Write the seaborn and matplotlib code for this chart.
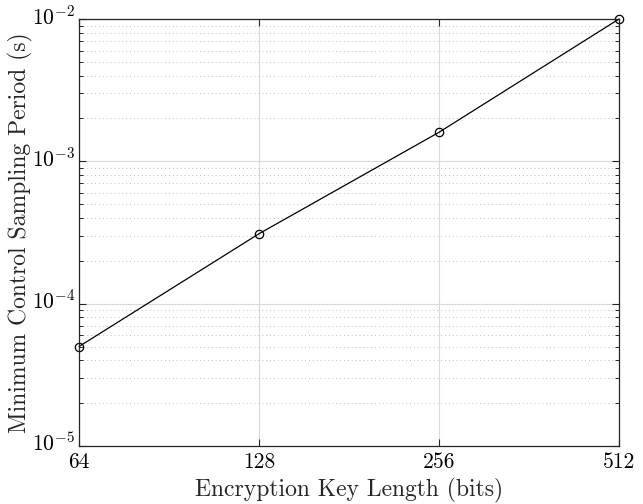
import matplotlib
matplotlib.use("Agg")
import matplotlib.pyplot as plt
import matplotlib.ticker as mticker
import matplotlib.transforms as mtransforms
import seaborn as sns
import pandas as pd

key_bits = [64, 128, 256, 512]
min_period = [5.0e-5, 3.1e-4, 1.6e-3, 1.0e-2]
x_ticks = [64, 128, 256, 512]
x_tick_labels = ["64", "128", "256", "512"]

sns.set_style("ticks")
plt.rcParams.update({
    "font.family": "serif",
    "font.serif": ["cmr10"],
    "mathtext.fontset": "cm",
    "axes.formatter.use_mathtext": True,
    "axes.unicode_minus": False,
    "xtick.direction": "in",
    "ytick.direction": "in",
    "xtick.top": True,
    "ytick.right": True,
})

df = pd.DataFrame({"bits": key_bits, "period": min_period})

fig = plt.figure(figsize=(6.43, 5.04), dpi=100)
ax = fig.add_axes([0.1229, 0.1151, 0.8398, 0.8472])

sns.lineplot(data=df, x="bits", y="period", ax=ax, color="black", lw=0.9,
             marker="o", markersize=6, markerfacecolor="none",
             markeredgecolor="black", markeredgewidth=0.9)
for ln in ax.lines:
    ln.set_clip_on(False)

ax.set_xscale("log", base=2)
ax.set_yscale("log")
ax.set_xlim(64, 512)
ax.set_ylim(1e-5, 1e-2)
ax.xaxis.set_major_locator(mticker.FixedLocator(x_ticks))
ax.xaxis.set_major_formatter(mticker.FixedFormatter(x_tick_labels))
ax.xaxis.set_minor_locator(mticker.NullLocator())
ax.yaxis.set_major_locator(mticker.LogLocator(base=10, numticks=10))
ax.yaxis.set_minor_locator(mticker.LogLocator(base=10, subs=range(2, 10), numticks=20))
ax.yaxis.set_minor_formatter(mticker.NullFormatter())

ax.grid(which="major", color="#d9d9d9", lw=0.8, ls="-")
ax.grid(which="minor", axis="y", color="#bdbdbd", lw=0.7, ls=(0, (1, 3)))
ax.set_axisbelow(True)

for s in ax.spines.values():
    s.set_color("#262626")
    s.set_linewidth(0.9)
ax.tick_params(which="major", length=5, width=0.8, labelsize=15.5, colors="#262626")
ax.tick_params(which="minor", length=3, width=0.7, colors="#262626")
ax.tick_params(axis="x", pad=5)
ax.tick_params(axis="y", pad=3)
for lab in ax.get_xticklabels() + ax.get_yticklabels():
    lab.set_color("black")

ax.set_xlabel("Encryption Key Length (bits)", fontsize=17, labelpad=4)
ax.set_ylabel("Minimum Control Sampling Period (s)", fontsize=17, labelpad=-1)

# lift the power-of-ten labels so the base sits on the tick
lift = mtransforms.ScaledTranslation(0, 3.5 / 72, fig.dpi_scale_trans)
for lab in ax.get_yticklabels():
    lab.set_transform(lab.get_transform() + lift)

fig.savefig("out.png", dpi=100)
